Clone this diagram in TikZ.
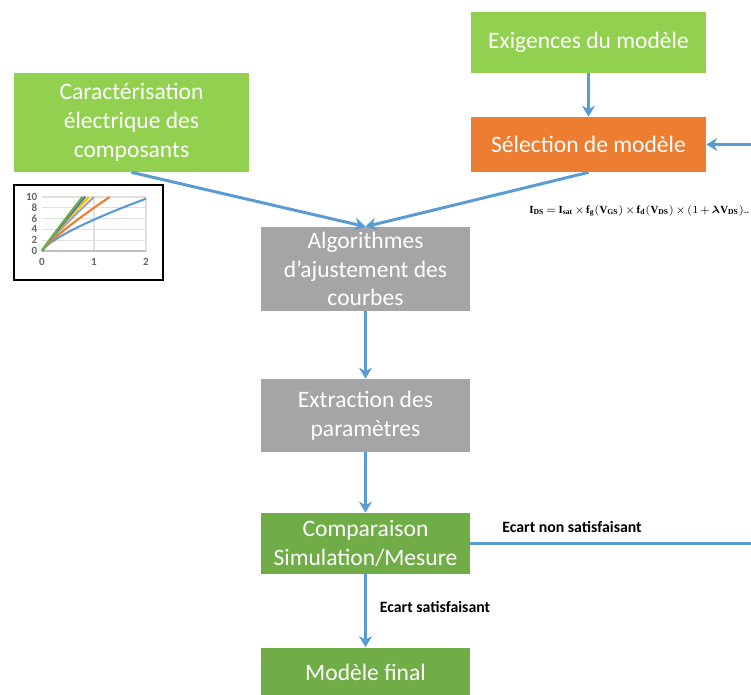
\documentclass[tikz,border=0pt]{standalone}
\usepackage{amsmath}
\usepackage{fontspec}
\setmainfont{Carlito}
\newfontfamily\seriffont{Liberation Serif}
\usetikzlibrary{calc,arrows.meta,positioning}

\definecolor{vertclair}{HTML}{92D050}
\definecolor{vertfonce}{HTML}{70AD47}
\definecolor{orange}{HTML}{ED7D31}
\definecolor{gris}{HTML}{A5A5A5}
\definecolor{bleu}{HTML}{5B9BD5}
\definecolor{bleufonce}{HTML}{4472C4}
\definecolor{jaune}{HTML}{FFC000}

\newcommand{\grasIds}[1]{\text{\seriffont\bfseries #1}}

\begin{document}
\begin{tikzpicture}[x=0.02cm, y=-0.02cm,
  boite/.style={fill=#1, text=white, align=center, inner sep=0pt,
    font=\fontsize{13.4}{16.4}\selectfont},
  fleche/.style={draw=bleu, line width=1.7pt, -{Stealth[length=0.22cm, width=0.26cm]}},
  etiquette/.style={font=\fontsize{9}{10}\selectfont\bfseries, text=black},
  formule/.style={anchor=west, inner sep=0pt, font=\fontsize{6.2}{8}\selectfont},
  graduation/.style={text=black!60, font=\fontsize{6.3}{7}\selectfont\bfseries, inner sep=1pt},
  courbe/.style={#1, line width=1.2pt}]

  \useasboundingbox (0,0) rectangle (751,695);
  \clip (0,0) rectangle (751,695);

  % Boites
  \node[boite=vertclair, minimum width=4.7cm, minimum height=1.22cm] (exig) at (588.5,42.5) {Exigences du modèle};
  \node[boite=orange, minimum width=4.7cm, minimum height=1.1cm] (sel) at (588.5,144.5) {Sélection de modèle};
  \node[boite=vertclair, minimum width=4.7cm, minimum height=1.98cm] (carac) at (131.5,122.5) {Caractérisation\\électrique des\\composants};
  \node[boite=gris, minimum width=4.18cm, minimum height=1.68cm] (algo) at (365.5,269) {Algorithmes\\d’ajustement des\\courbes};
  \node[boite=gris, minimum width=4.18cm, minimum height=1.46cm] (extr) at (365.5,415.5) {Extraction des\\paramètres};
  \node[boite=vertfonce, minimum width=4.18cm, minimum height=1.22cm] (comp) at (365.5,543.5) {Comparaison\\Simulation/Mesure};
  \node[boite=vertfonce, minimum width=4.18cm, minimum height=1.0cm] (final) at (365.5,672.5) {Modèle final};

  % Equation du modele
  \node[formule] (equa) at (529.0,211.0) {\medmuskip=2mu\thickmuskip=3mu$\grasIds{I}_{\grasIds{DS}} = \grasIds{I}_{\grasIds{sat}} \times \grasIds{f}_{\grasIds{g}}(\grasIds{V}_{\grasIds{GS}}) \times \grasIds{f}_{\grasIds{d}}(\grasIds{V}_{\grasIds{DS}}) \times (1 + \boldsymbol{\lambda}\grasIds{V}_{\grasIds{DS}})$..};

  % Fleches
  \draw[fleche] (exig) -- (sel);
  \draw[fleche] (carac.south) -- (algo.north);
  \draw[fleche] (sel.south) -- (algo.north);
  \draw[fleche] (algo) -- (extr);
  \draw[fleche] (extr) -- (comp);
  \draw[fleche] (comp) -- (final);
  \coordinate (retour) at (765,543.5);
  \draw[fleche] (comp.east) -- (retour) |- (sel.east);

  % Etiquettes
  \node[etiquette] (nonsat) at (572,527) {Ecart non satisfaisant};
  \node[etiquette] (sat) at (435,607) {Ecart satisfaisant};

  % Courbes mesurees
  \draw[black, line width=0.6pt] (14,185) rectangle (163,280);
  \begin{scope}[shift={(42,251)}]
  \begin{scope}[x=1.04cm, y=0.108cm]
    \foreach \k in {2,4,...,10}
      \draw[black!12, line width=0.6pt] (0,\k) -- (2,\k);
    \foreach \k in {1,2}
      \draw[black!12, line width=0.6pt] (\k,0) -- (\k,10);
    \draw[black!25, line width=0.6pt] (0,0) -- (2,0);
    \foreach \k in {0,2,...,10}
      \node[graduation, left] at (-0.05,\k) {\k};
    \foreach \k in {0,1,2}
      \node[graduation, below] at (\k,-1.0) {\k};
    \draw[courbe=bleu] plot[domain=0:2, samples=40] (\x,{5.8*(\x)^0.74});
    \draw[courbe=orange] plot[domain=0:1.3, samples=30] (\x,{8*(\x)^0.85});
    \draw[courbe=gris] plot[domain=0:1.0, samples=30] (\x,{10*(\x)^0.9});
    \draw[courbe=jaune] plot[domain=0:0.9, samples=30] (\x,{11*(\x)^0.9});
    \draw[courbe=bleufonce] plot[domain=0:0.83, samples=30] (\x,{12*(\x)^0.95});
    \draw[courbe=vertfonce] plot[domain=0:0.78, samples=30] (\x,{12.7*(\x)^0.95});
  \end{scope}
  \end{scope}

\end{tikzpicture}
\end{document}
